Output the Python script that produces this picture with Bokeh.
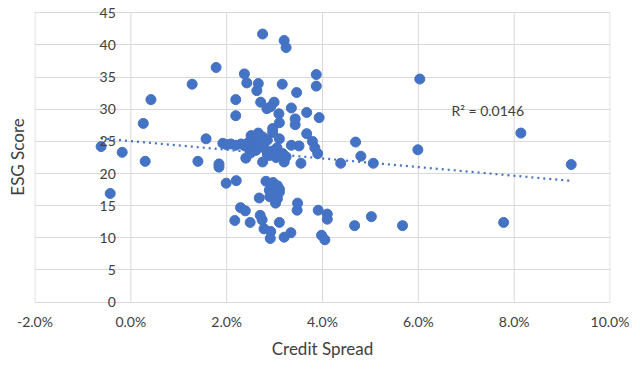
import numpy as np
from bokeh.plotting import figure
from bokeh.models import (ColumnDataSource, FixedTicker, NumeralTickFormatter,
                          CustomJSTickFormatter, Label, Range1d)
from bokeh.embed import file_html
from bokeh.resources import INLINE

# ---- data (credit spread in %, ESG score) ----
credit_spread_pct = [
    -0.62, -0.43, -0.18, 0.26, 0.30, 0.42, 1.28, 1.40, 1.57, 1.78, 1.84, 1.84, 1.99, 2.20,
    2.75, 3.20, 3.24, 2.37, 2.42, 2.66, 2.63, 3.16, 3.46, 3.87, 3.87, 2.19, 2.19, 2.71,
    2.84, 2.99, 2.92, 3.35, 3.67, 3.09, 3.10, 3.43, 3.43, 3.93, 2.96, 3.67, 2.66, 2.51,
    2.85, 3.10, 3.79, 3.84, 3.90,
    1.92, 2.00, 2.09, 2.19, 2.30, 2.38, 2.45, 2.55, 2.62, 2.70, 2.78, 2.96, 2.58, 2.75,
    2.40, 2.61, 2.50, 2.75, 2.89, 3.03, 2.95, 3.17, 3.24, 3.20, 3.35, 3.51, 3.55, 3.05, 2.85,
    4.38, 4.69, 4.80, 5.06, 5.99, 6.03, 8.14, 9.19,
    2.82, 2.97, 3.10, 2.89, 3.02, 3.10, 3.06, 2.68, 2.90, 3.02, 3.06, 3.48, 3.47, 2.29,
    2.39, 3.91, 4.10, 4.10, 2.17, 2.49, 2.70, 2.74, 3.10, 2.78, 2.92, 2.91, 3.20, 3.34,
    3.98, 4.05, 4.67, 5.02, 5.67, 7.78,
]
esg_score = [
    24.2, 16.9, 23.3, 27.8, 21.9, 31.5, 33.9, 21.9, 25.4, 36.5, 21.5, 21.0, 18.5, 18.9,
    41.7, 40.7, 39.6, 35.5, 34.1, 34.0, 32.9, 33.9, 32.6, 35.4, 33.6, 31.5, 29.0, 31.1,
    30.1, 31.1, 30.4, 30.2, 29.5, 29.3, 27.9, 28.5, 27.6, 28.7, 27.0, 26.2, 26.3, 25.9,
    25.2, 25.4, 25.0, 24.0, 23.1,
    24.7, 24.5, 24.6, 24.4, 24.6, 24.3, 24.8, 24.5, 24.2, 24.6, 24.0, 26.4, 25.6, 25.7,
    22.4, 23.6, 23.2, 21.8, 22.8, 22.5, 23.5, 23.1, 22.6, 21.8, 24.4, 24.3, 21.6, 24.0, 23.0,
    21.6, 24.9, 22.7, 21.6, 23.7, 34.7, 26.3, 21.4,
    18.8, 18.6, 17.6, 17.4, 16.9, 17.1, 18.1, 16.2, 16.4, 15.4, 16.1, 15.4, 14.3, 14.7,
    14.2, 14.3, 13.7, 12.9, 12.7, 12.4, 13.5, 12.8, 12.4, 11.4, 11.0, 9.9, 10.1, 10.8,
    10.4, 9.7, 11.9, 13.3, 11.9, 12.4,
]
x_ticks = [-0.02, 0.0, 0.02, 0.04, 0.06, 0.08, 0.10]
y_ticks = [0, 5, 10, 15, 20, 25, 30, 35, 40, 45]
y_tick_labels = [str(v) for v in y_ticks]
r2_text = "R² = 0.0146"

BLUE = "#4472C4"
GRID = "#D9D9D9"
TXT = "#404040"
FONT = "Lato"

x = np.array(credit_spread_pct) / 100.0
y = np.array(esg_score)

# the frame is a little taller than the 0..45 plot area so that the
# "0" and "45" labels at the x = 0 crossing are not clipped
p = figure(width=632, height=361, output_backend="svg", toolbar_location=None,
           x_range=Range1d(-0.0201, 0.1001), y_range=Range1d(-1.3, 46.45),
           min_border_left=34, min_border_right=22, min_border_top=3, min_border_bottom=40)
p.background_fill_color = "white"
p.border_fill_color = "white"
p.outline_line_color = None

# horizontal gridlines (span full width)
p.ygrid.ticker = FixedTicker(ticks=y_ticks)
p.ygrid.grid_line_color = GRID
p.xgrid.visible = False
# vertical gridlines, limited to the 0..45 plot area
p.segment(x0=x_ticks, y0=[y_ticks[0]] * len(x_ticks), x1=x_ticks,
          y1=[y_ticks[-1]] * len(x_ticks), line_color=GRID, line_width=1)

# x axis (line drawn by the y = 0 gridline)
xa = p.xaxis[0]
xa.ticker = FixedTicker(ticks=x_ticks)
xa.formatter = NumeralTickFormatter(format="0.0%")
xa.axis_line_color = None
xa.major_tick_line_color = None
xa.minor_tick_line_color = None
xa.major_tick_out = 0
xa.major_tick_in = 0
xa.minor_tick_out = 0
xa.minor_tick_in = 0
xa.major_label_standoff = 2
xa.major_label_text_font = FONT
xa.major_label_text_font_size = "14px"
xa.major_label_text_color = TXT
xa.axis_label = "Credit Spread"
xa.axis_label_text_font = FONT
xa.axis_label_text_font_size = "17px"
xa.axis_label_text_font_style = "normal"
xa.axis_label_text_color = TXT
xa.axis_label_standoff = 5

# y axis: title only (tick labels are placed at the x = 0 crossing)
ya = p.yaxis[0]
ya.ticker = FixedTicker(ticks=y_ticks)
ya.formatter = CustomJSTickFormatter(code="return ''")
ya.axis_line_color = None
ya.major_tick_line_color = None
ya.minor_tick_line_color = None
ya.major_tick_out = 0
ya.major_tick_in = 0
ya.minor_tick_out = 0
ya.minor_tick_in = 0
ya.major_label_standoff = 0
ya.axis_label = "ESG Score"
ya.axis_label_text_font = FONT
ya.axis_label_text_font_size = "17px"
ya.axis_label_text_font_style = "normal"
ya.axis_label_text_color = TXT
ya.axis_label_standoff = 7

# y tick labels next to the vertical axis at x = 0
for v, t in zip(y_ticks, y_tick_labels):
    p.add_layout(Label(x=0.0, y=v, text=t, x_offset=-15, text_align="right",
                       text_baseline="middle", text_font=FONT,
                       text_font_size="14px", text_color=TXT))

# scatter
src = ColumnDataSource(dict(x=x, y=y))
p.scatter("x", "y", source=src, size=10, fill_color=BLUE, line_color=BLUE, line_width=1)

# linear trendline
slope, intercept = np.polyfit(x, y, 1)
tx = np.array([x.min(), x.max()])
p.line(tx, slope * tx + intercept, line_color=BLUE, line_width=2.2, line_dash="2 4")

# R² label
p.add_layout(Label(x=0.0669, y=29.8, text=r2_text, text_align="left",
                   text_baseline="middle", text_font=FONT, text_font_size="14px",
                   text_color=TXT))

open("out.html", "w").write(file_html(p, INLINE))
